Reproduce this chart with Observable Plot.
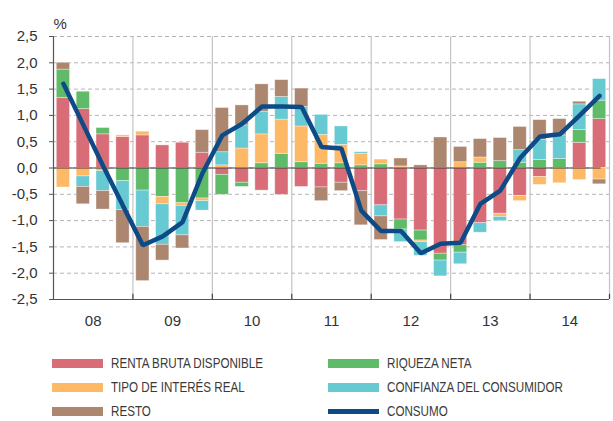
<!DOCTYPE html>
<html><head><meta charset="utf-8">
<script src="https://cdn.jsdelivr.net/npm/d3@7"></script>
<script src="https://cdn.jsdelivr.net/npm/@observablehq/plot@0.6"></script>
<style>
body{margin:0;background:#fff;font-family:"Liberation Sans",Arial,sans-serif;}
#wrap{position:relative;width:613px;height:421px;overflow:hidden}
.leg{position:absolute;display:flex;align-items:center;height:16px}
.sw{width:51px;height:9px;margin-right:8px;flex:none}
.lab{font-size:15.5px;color:#3a3a3a;transform:scaleX(0.75);transform-origin:left center;white-space:nowrap}
</style></head>
<body><div id="wrap"><div id="chart"></div><div id="legend"></div></div>
<script>
// ---- data ----
const years = [2008, 2009, 2010, 2011, 2012, 2013, 2014];
const yearLabels = ["08", "09", "10", "11", "12", "13", "14"];
const quartersPerYear = 4;
const seriesNames = ["RENTA BRUTA DISPONIBLE", "RIQUEZA NETA", "TIPO DE INTERÉS REAL", "CONFIANZA DEL CONSUMIDOR", "RESTO"];
const seriesColors = ["#d86d78", "#5fbb68", "#fdb965", "#67c9d2", "#ad8670"];
const lineName = "CONSUMO";
const lineColor = "#0e4b86";
const yTicks = [-2.5, -2, -1.5, -1, -0.5, 0, 0.5, 1, 1.5, 2, 2.5];

const renta = [1.33, 1.12, 0.64, 0.59, 0.62, 0.43, 0.48, 0.29, -0.13, -0.28, -0.43, -0.51, -0.36, -0.37, -0.28, -0.44, -0.71, -0.98, -1.19, -1.63, -1.47, -1.05, -0.87, -0.53, -0.17, 0, 0.48, 0.93];
const riqueza = [0.54, 0.33, 0.12, -0.25, -0.43, -0.55, -0.67, -0.58, -0.38, -0.08, 0.09, 0.27, 0.11, 0.08, 0.09, 0.05, 0.07, -0.19, -0.19, -0.13, -0.14, 0.10, 0.13, 0.10, 0.15, 0.17, 0.24, 0.35];
const tipo = [-0.37, -0.16, -0.06, 0.03, 0.07, -0.14, -0.05, -0.05, 0.05, 0.37, 0.55, 0.65, 0.68, 0.55, 0.35, 0.22, 0.09, 0.03, -0.03, 0, 0.11, 0.10, -0.06, -0.10, -0.15, -0.29, -0.23, -0.22];
const confianza = [0, -0.20, -0.38, -0.55, -0.69, -0.77, -0.56, -0.18, 0.25, 0.44, 0.43, 0.43, 0.37, 0.38, 0.35, 0.03, -0.21, -0.24, -0.26, -0.30, -0.22, -0.18, -0.08, 0.24, 0.38, 0.45, 0.49, 0.41];
const resto = [0.13, -0.33, -0.35, -0.63, -1.03, -0.30, -0.25, 0.43, 0.84, 0.38, 0.52, 0.32, 0.35, -0.26, -0.16, -0.65, -0.45, 0.15, 0.05, 0.58, 0.29, 0.35, 0.44, 0.44, 0.38, 0.31, 0.05, -0.09];
const consumo = [1.60, 0.82, 0.04, -0.72, -1.47, -1.30, -1.03, -0.10, 0.62, 0.84, 1.17, 1.17, 1.16, 0.40, 0.37, -0.81, -1.20, -1.20, -1.62, -1.44, -1.42, -0.68, -0.43, 0.19, 0.60, 0.64, 1.00, 1.37];

// ---- build tables ----
const quarterStarts = [];
years.forEach(y => { for (let q = 0; q < quartersPerYear; q++) quarterStarts.push(y + q / quartersPerYear); });
const step = 1 / quartersPerYear;
const seriesValues = [renta, riqueza, tipo, confianza, resto];
const bars = [];
seriesValues.forEach((vals, s) => vals.forEach((v, i) => bars.push({serie: seriesNames[s], t0: quarterStarts[i], t1: quarterStarts[i] + step, v})));
const line = consumo.map((v, i) => ({t: quarterStarts[i] + step / 2, v}));
const xMin = years[0], xMax = years[years.length - 1] + 1;
const boundaries = years.slice(1).concat([xMax]);

const W = 613, H = 340;
const chart = Plot.plot({
  width: W, height: H,
  marginLeft: 53, marginRight: 4, marginTop: 36, marginBottom: H - 299,
  style: {fontFamily: "'Liberation Sans', Arial, sans-serif", fontSize: "15px", color: "#333", background: "#fff"},
  x: {domain: [xMin, xMax], axis: null},
  y: {domain: [-2.5, 2.5], axis: null},
  color: {domain: seriesNames, range: seriesColors},
  marks: [
    Plot.gridY(yTicks, {stroke: "#b4b4b4", strokeOpacity: 1, strokeDasharray: "4,3"}),
    Plot.ruleX(boundaries, {stroke: "#c4c4c4", strokeWidth: 1.2}),
    Plot.rectY(bars, {x1: "t0", x2: "t1", y: "v", fill: "serie", insetLeft: 3.3, insetRight: 3.3, stroke: "#fff", strokeOpacity: 0.45, strokeWidth: 0.8}),
    Plot.ruleY([0], {x1: xMin, x2: line[line.length - 1].t + 0.02, stroke: "#3a3a3a", strokeWidth: 1}),
    Plot.lineY(line, {x: "t", y: "v", stroke: lineColor, strokeWidth: 4.5, strokeLinejoin: "miter"}),
    Plot.ruleX([xMin], {stroke: "#555", strokeWidth: 1.2}),
    Plot.ruleY([-2.5], {stroke: "#555", strokeWidth: 1.2}),
    Plot.ruleX(boundaries, {y1: -2.5, y2: -2.4, stroke: "#444", strokeWidth: 1.2}),
    Plot.axisY(yTicks, {tickSize: 4, tickPadding: 12, tickFormat: d => d.toFixed(1).replace(".", ","), fontSize: 15, fill: "#333", stroke: "#555", label: null}),
    Plot.axisX(years.map(y => y + 0.5), {tickSize: 0, tickPadding: 16, tickFormat: (d, i) => yearLabels[i], fontSize: 15, fill: "#333", label: null}),
    Plot.text(["%"], {frameAnchor: "top-left", dy: -18, textAnchor: "start", fontSize: 15, fill: "#333"})
  ]
});
document.getElementById("chart").appendChild(chart);

// ---- legend ----
const legendItems = [
  {name: seriesNames[0], color: seriesColors[0], col: 0, row: 0},
  {name: seriesNames[1], color: seriesColors[1], col: 1, row: 0},
  {name: seriesNames[2], color: seriesColors[2], col: 0, row: 1},
  {name: seriesNames[3], color: seriesColors[3], col: 1, row: 1},
  {name: seriesNames[4], color: seriesColors[4], col: 0, row: 2},
  {name: lineName, color: lineColor, col: 1, row: 2, line: true}
];
const legend = document.getElementById("legend");
legendItems.forEach(it => {
  const d = document.createElement("div");
  d.className = "leg";
  d.style.left = (it.col ? 328 : 52) + "px";
  d.style.top = (355 + it.row * 24) + "px";
  const sw = document.createElement("div");
  sw.className = "sw";
  sw.style.background = it.color;
  if (it.line) sw.style.height = "5px";
  const lab = document.createElement("span");
  lab.className = "lab";
  lab.textContent = it.name;
  d.appendChild(sw); d.appendChild(lab);
  legend.appendChild(d);
});
</script>
</body></html>
